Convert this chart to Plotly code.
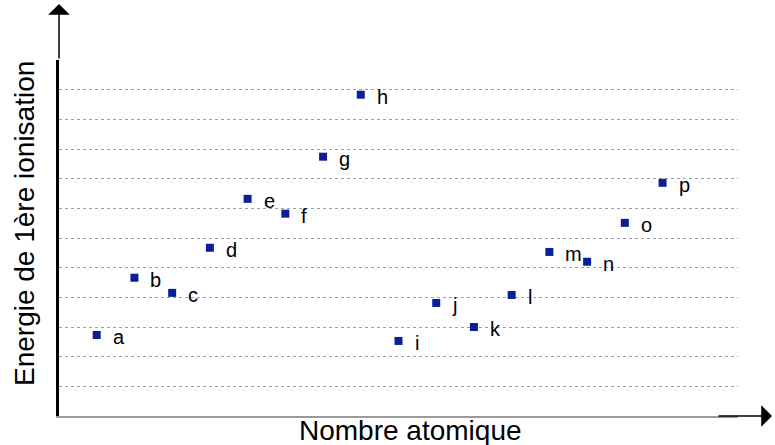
import plotly.graph_objects as go

labels = list("abcdefghijklmnop")
x_vals = list(range(1, 17))
energies = [2.73, 4.66, 4.15, 5.67, 7.32, 6.82, 8.74, 10.83, 2.53, 3.81, 3.0, 4.08, 5.53, 5.2, 6.51, 7.86]

L, R, T, B = 59, 37, 60, 29
W, H = 775, 445
PW, PH = W - L - R, H - T - B

fig = go.Figure()
fig.add_trace(go.Scatter(
    x=x_vals, y=energies, mode="markers",
    marker=dict(symbol="square", size=8, color="#0d1f96"),
    hoverinfo="skip", showlegend=False,
))

for lab, xv, yv in zip(labels, x_vals, energies):
    fig.add_annotation(x=xv, y=yv, xref="x", yref="y", text=lab, showarrow=False,
                       xanchor="left", yanchor="middle", xshift=14, yshift=-2,
                       font=dict(size=20, color="black", family="Liberation Sans, Arial"))

# axis arrows
fig.add_annotation(x=0, y=(H - B - 4) / PH, xref="paper", yref="paper", ax=0, ay=56,
                   axref="pixel", ayref="pixel", text="", showarrow=True,
                   arrowhead=1, arrowsize=2.4, arrowwidth=1.5, arrowcolor="black")
fig.add_annotation(x=(W - 3 - L) / PW, y=0, xref="paper", yref="paper", ax=-55, ay=0,
                   axref="pixel", ayref="pixel", text="", showarrow=True,
                   arrowhead=1, arrowsize=2.4, arrowwidth=1.5, arrowcolor="black")

# axis titles
fig.add_annotation(x=(410 - L) / PW, y=(H - B - 430) / PH, xref="paper", yref="paper",
                   text="Nombre atomique", showarrow=False, xanchor="center", yanchor="middle",
                   font=dict(size=28, color="black", family="Liberation Sans, Arial"))
fig.add_annotation(x=(24 - L) / PW, y=(H - B - 224) / PH, xref="paper", yref="paper",
                   text="Energie de 1ère ionisation", showarrow=False, textangle=-90,
                   xanchor="center", yanchor="middle",
                   font=dict(size=28, color="black", family="Liberation Sans, Arial"))

fig.update_layout(
    width=W, height=H,
    margin=dict(l=L, r=R, t=T, b=B),
    paper_bgcolor="white", plot_bgcolor="white",
    font=dict(family="Liberation Sans, Arial", color="black"),
    xaxis=dict(range=[0, 18], showgrid=False, zeroline=False, showticklabels=False,
               ticks="", showline=True, linecolor="#9a9a9a", linewidth=2, automargin=False),
    yaxis=dict(range=[0, 12], tickvals=list(range(1, 12)), showticklabels=False, ticks="",
               showgrid=True, gridcolor="#a0a0a0", griddash="dot", gridwidth=1,
               zeroline=False, showline=True, linecolor="black", linewidth=3, automargin=False),
)

fig.write_html("out.html", config={"displayModeBar": False, "staticPlot": True},
               post_script="document.body.style.margin='0px';document.body.style.overflow='hidden';")
